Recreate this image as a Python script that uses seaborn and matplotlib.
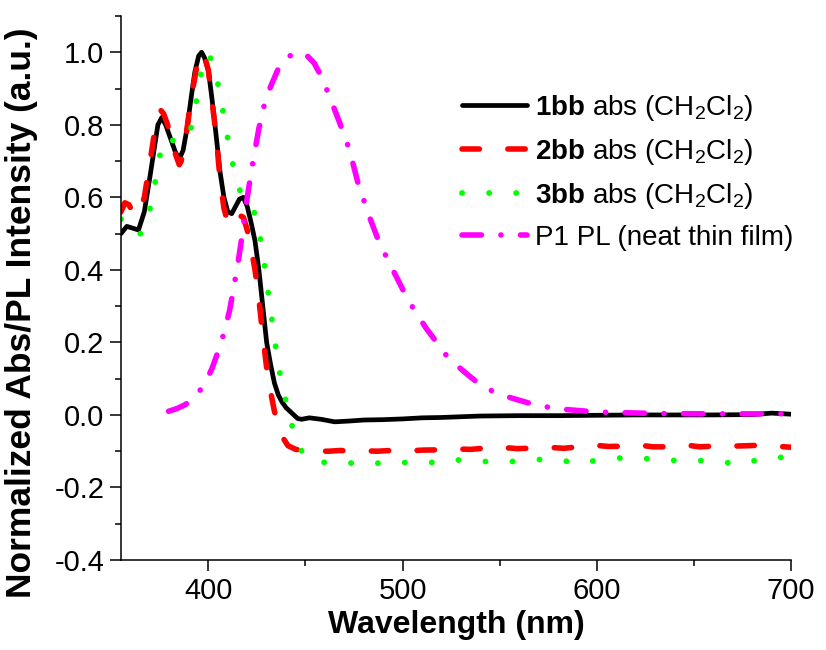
import numpy as np
import pandas as pd
import matplotlib
matplotlib.use('Agg')
import matplotlib.pyplot as plt
import seaborn as sns
from matplotlib.ticker import MultipleLocator

# wavelengths (nm) and normalized values
wl_1bb = [355, 358, 361, 364, 367, 370, 372, 374, 376, 378, 380, 383, 385, 387, 389,
          391, 393, 395, 396.5, 398, 400, 402, 404, 406, 408, 410, 412, 414, 416, 418,
          420, 422, 424, 426, 428, 430, 432, 434, 436, 438, 440, 443, 446, 448, 452,
          458, 465, 472, 480, 490, 500, 510, 520, 540, 560, 580, 600, 620, 640, 660,
          680, 690, 700]
abs_1bb = [0.50, 0.52, 0.515, 0.51, 0.56, 0.66, 0.73, 0.80, 0.82, 0.80, 0.77, 0.725,
           0.705, 0.73, 0.79, 0.87, 0.945, 0.99, 1.0, 0.985, 0.95, 0.865, 0.77, 0.67,
           0.60, 0.56, 0.555, 0.575, 0.595, 0.60, 0.575, 0.53, 0.48, 0.40, 0.30, 0.20,
           0.14, 0.088, 0.055, 0.035, 0.02, 0.005, -0.01, -0.012, -0.008, -0.012,
           -0.019, -0.017, -0.014, -0.013, -0.011, -0.008, -0.007, -0.003, -0.002,
           -0.002, -0.001, 0.0, 0.0, 0.0, 0.001, 0.005, 0.002]

wl_2bb = [355, 357, 359, 361, 364, 367, 370, 372, 374, 375.5, 377, 379, 381, 383, 385,
          386, 388, 390, 392, 394, 396, 398, 400, 402, 404, 406, 408, 410, 412, 414,
          416, 418, 420, 422, 424, 426, 428, 430, 432, 434, 436, 438, 441, 445, 450,
          456, 462, 468, 474, 480, 487, 498, 504, 510, 522, 528, 535, 546, 550, 555,
          559, 570, 577, 583, 594, 600, 606, 617, 623, 629, 640, 646, 653, 664, 670,
          677, 687, 694, 700]
abs_2bb = [0.56, 0.585, 0.58, 0.56, 0.55, 0.60, 0.70, 0.77, 0.82, 0.84, 0.83, 0.80,
           0.76, 0.72, 0.69, 0.70, 0.75, 0.83, 0.90, 0.96, 1.0, 0.99, 0.95, 0.86, 0.77,
           0.65, 0.57, 0.53, 0.52, 0.535, 0.55, 0.545, 0.51, 0.46, 0.40, 0.32, 0.22,
           0.13, 0.065, 0.01, -0.03, -0.06, -0.085, -0.095, -0.099, -0.1, -0.1,
           -0.098, -0.1, -0.099, -0.1, -0.097, -0.099, -0.097, -0.096, -0.094,
           -0.095, -0.09, -0.094, -0.091, -0.093, -0.091, -0.09, -0.092, -0.086,
           -0.084, -0.087, -0.086, -0.084, -0.088, -0.088, -0.083, -0.088, -0.085,
           -0.086, -0.085, -0.083, -0.087, -0.089]

wl_3bb = [355, 357.5, 360, 362.5, 365, 368, 370, 372, 374, 376, 378, 380, 382, 384,
          386.5, 389, 391, 393, 395, 397, 399, 401, 403.5, 406.5, 409, 411.5, 414,
          416.5, 419, 421, 423.5, 425.5, 428, 430, 432, 434, 436, 439, 442, 446, 451,
          457, 464, 470, 476, 481, 486, 492, 498, 504, 510, 515, 523, 530, 536, 547,
          558, 568, 573, 582, 591, 595, 605, 616, 624, 637, 648, 659, 669, 675, 684,
          693, 700]
abs_3bb = [0.54, 0.53, 0.51, 0.495, 0.50, 0.53, 0.57, 0.62, 0.69, 0.74, 0.765, 0.765,
           0.755, 0.75, 0.755, 0.765, 0.79, 0.84, 0.905, 0.965, 0.995, 0.985, 0.95,
           0.87, 0.79, 0.72, 0.655, 0.615, 0.595, 0.585, 0.56, 0.526, 0.448, 0.37,
           0.29, 0.213, 0.136, 0.06, -0.01, -0.085, -0.12, -0.131, -0.13, -0.135,
           -0.131, -0.128, -0.133, -0.133, -0.129, -0.133, -0.13, -0.131, -0.121,
           -0.125, -0.126, -0.13, -0.128, -0.125, -0.121, -0.125, -0.135, -0.129,
           -0.122, -0.117, -0.12, -0.125, -0.127, -0.125, -0.133, -0.137, -0.121,
           -0.117, -0.117]

wl_pl = [379.5, 384, 388, 392, 396, 399, 402, 405, 408, 411, 413, 415, 417.5, 420, 423,
         426, 429, 432, 436, 440, 446, 450, 454.5, 458, 461.5, 467.5, 472.7, 477, 483,
         488, 495, 503, 512, 523.5, 533.5, 542, 554, 570, 584, 600, 630, 660, 700]
pl_p1 = [0.01, 0.018, 0.028, 0.045, 0.07, 0.095, 0.13, 0.175, 0.225, 0.29, 0.35, 0.41,
         0.50, 0.60, 0.70, 0.79, 0.86, 0.905, 0.955, 0.985, 1.0, 0.995, 0.97, 0.935,
         0.89, 0.807, 0.73, 0.64, 0.545, 0.475, 0.40, 0.315, 0.24, 0.157, 0.111,
         0.075, 0.05, 0.025, 0.015, 0.008, 0.004, 0.003, 0.003]

labels = [r'$\mathbf{1bb}$ abs (CH$_2$Cl$_2$)',
          r'$\mathbf{2bb}$ abs (CH$_2$Cl$_2$)',
          r'$\mathbf{3bb}$ abs (CH$_2$Cl$_2$)',
          'P1 PL (neat thin film)']

sns.set_theme(style='ticks')
plt.rcParams['font.family'] = ['Liberation Sans', 'DejaVu Sans']
plt.rcParams['mathtext.fontset'] = 'custom'
plt.rcParams['mathtext.rm'] = 'Liberation Sans'
plt.rcParams['mathtext.bf'] = 'Liberation Sans:bold'
plt.rcParams['mathtext.it'] = 'Liberation Sans:italic'
plt.rcParams['lines.scale_dashes'] = False
plt.rcParams['lines.dash_capstyle'] = 'round'
plt.rcParams['lines.solid_capstyle'] = 'round'
plt.rcParams['text.color'] = 'black'
plt.rcParams['axes.labelcolor'] = 'black'

fig = plt.figure(figsize=(8.26, 6.5), dpi=100)
ax = fig.add_axes([121 / 826, 1 - 560 / 650, (791 - 121) / 826, (560 - 16) / 650])

series = [(wl_1bb, abs_1bb, 'black', 3.4, None),
          (wl_2bb, abs_2bb, '#ff0000', 4.0, (12.5, 20.5)),
          (wl_3bb, abs_3bb, '#00ff00', 4.2, (0.1, 19.4)),
          (wl_pl, pl_p1, '#ff00ff', 4.0, (14, 14, 0.1, 14))]

for (x, y, c, lw, dash), lab in zip(series, labels):
    df = pd.DataFrame({'wl': x, 'val': y})
    sns.lineplot(data=df, x='wl', y='val', ax=ax, color=c, lw=lw, label=lab,
                 errorbar=None, sort=False)
    line = ax.lines[-1]
    if dash is not None:
        line.set_dashes(dash)

ax.set_xlim(355, 700)
ax.set_ylim(-0.4, 1.1)
ax.xaxis.set_major_locator(MultipleLocator(100))
ax.xaxis.set_minor_locator(MultipleLocator(50))
ax.yaxis.set_minor_locator(MultipleLocator(0.1))
ax.set_yticks([-0.4, -0.2, 0.0, 0.2, 0.4, 0.6, 0.8, 1.0])
ax.set_yticklabels(['-0.4', '-0.2', '0.0', '0.2', '0.4', '0.6', '0.8', '1.0'])
ax.tick_params(which='major', direction='out', length=8, width=1.1, labelsize=21,
               color='black', labelcolor='black', pad=4)
ax.tick_params(which='minor', direction='out', length=4.3, width=1.1, color='black')
for s in ['left', 'bottom']:
    ax.spines[s].set_linewidth(1.1)
    ax.spines[s].set_color('black')
sns.despine(ax=ax)

ax.set_xlabel('Wavelength (nm)', fontsize=23, fontweight='bold')
ax.set_ylabel('Normalized Abs/PL Intensity (a.u.)', fontsize=25.5, fontweight='bold')
ax.xaxis.set_label_coords(0.5, -(625 - 560) / 544, transform=ax.transAxes)
ax.yaxis.set_label_coords(-(121 - 21) / 670, (560 - 313) / 544, transform=ax.transAxes)
ax.xaxis.label.set_va('center')
ax.yaxis.label.set_va('center')

leg = ax.legend(loc='upper left', bbox_to_anchor=(462 / 826, 1 - 93 / 650),
                bbox_transform=fig.transFigure, frameon=False, fontsize=20,
                handlelength=2.35, handletextpad=0.28, labelspacing=0.5,
                borderpad=0, borderaxespad=0)

fig.savefig('out.png', dpi=100)
